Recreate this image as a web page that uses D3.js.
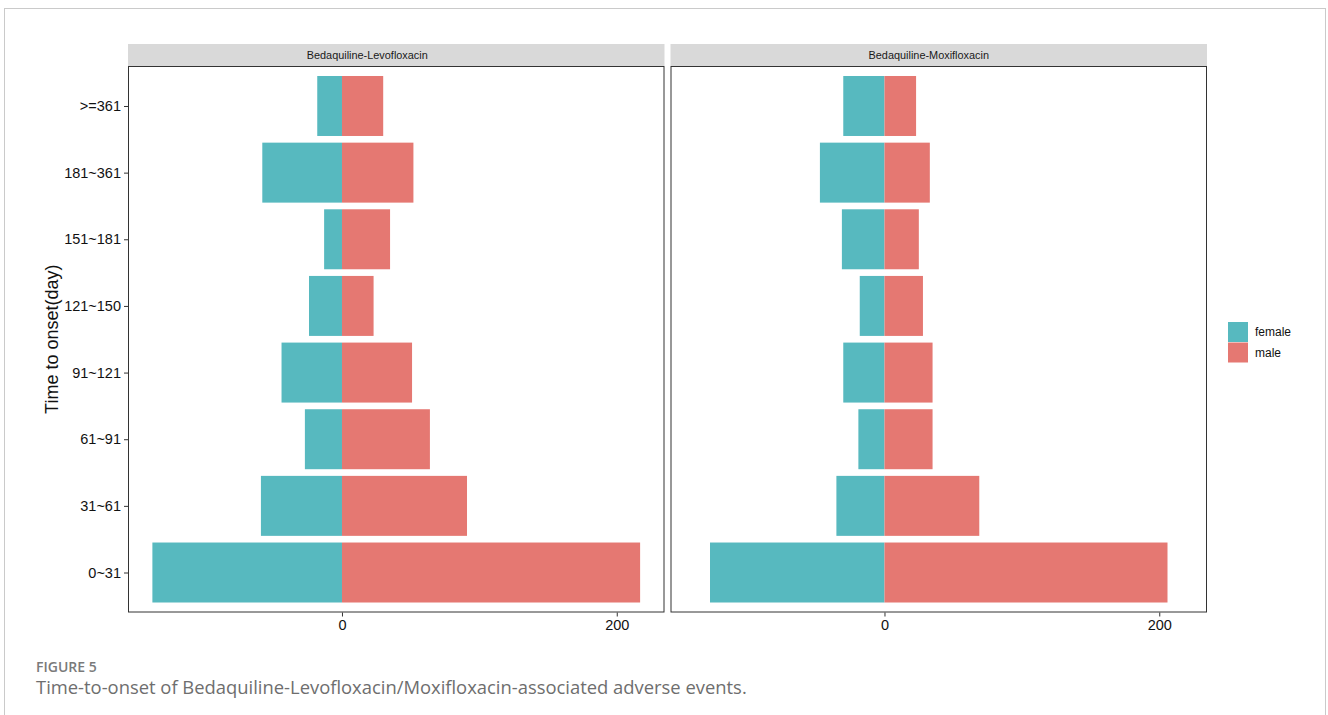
<!DOCTYPE html>
<html>
<head>
<meta charset="utf-8">
<script src="https://cdn.jsdelivr.net/npm/d3@7"></script>
<style>
  html, body { margin: 0; padding: 0; background: #fff; }
  svg { display: block; }
</style>
</head>
<body>
<script>
// ---- data ----
const categories = ["0~31", "31~61", "61~91", "91~121", "121~150", "151~181", "181~361", ">=361"];
const panels = ["Bedaquiline-Levofloxacin", "Bedaquiline-Moxifloxacin"];
const sexes = ["female", "male"];
const levoFemale = [138, 59, 27, 44, 24, 13, 58, 18];
const levoMale   = [217, 91, 64, 51, 23, 35, 52, 30];
const moxiFemale = [127, 35, 19, 30, 18, 31, 47, 30];
const moxiMale   = [206, 69, 35, 35, 28, 25, 33, 23];
const xTicks = [0, 200];
const yTitle = "Time to onset(day)";
const figLabel = "FIGURE 5";
const caption = "Time-to-onset of Bedaquiline-Levofloxacin/Moxifloxacin-associated adverse events.";

const seriesByPanel = [
  { female: levoFemale, male: levoMale },
  { female: moxiFemale, male: moxiMale }
];

const W = 1328, H = 715;
const svg = d3.select("body").append("svg").attr("width", W).attr("height", H);

// outer frame
svg.append("rect").attr("x", 4.5).attr("y", 8.5).attr("width", 1321).attr("height", 720)
  .attr("fill", "none").attr("stroke", "#cacaca").attr("stroke-width", 1);

const color = d3.scaleOrdinal().domain(sexes).range(["#57b9bf", "#e57872"]);

const panelTop = 66, panelBottom = 612.5, stripH = 22;
const panelX = [128, 670.5];
const panelW = 536.5;
const stripTextShift = [-29, -10];

// shared x domain with 5% expansion (ggplot style)
const allVals = [];
seriesByPanel.forEach(s => {
  s.female.forEach(v => allVals.push(-v));
  s.male.forEach(v => allVals.push(v));
});
const lo = d3.min(allVals), hi = d3.max(allVals);
const pad = (hi - lo) * 0.05;

const y = d3.scalePoint().domain(categories.slice().reverse())
  .range([panelTop, panelBottom]).padding(0.6);
const barH = y.step() * 0.9;

const font = "'Liberation Sans', Arial, sans-serif";

panels.forEach((name, pi) => {
  const x0 = panelX[pi];
  const x = d3.scaleLinear().domain([lo - pad, hi + pad]).range([x0, x0 + panelW]);
  const g = svg.append("g");

  // strip
  g.append("rect").attr("x", x0).attr("y", panelTop - stripH).attr("width", panelW).attr("height", stripH)
    .attr("fill", "#d9d9d9");
  g.append("text").attr("x", x0 + panelW / 2 + stripTextShift[pi]).attr("y", panelTop - stripH / 2)
    .attr("text-anchor", "middle").attr("dominant-baseline", "central")
    .attr("font-family", font).attr("font-size", "10.9px").attr("fill", "#1a1a1a").text(name);

  // bars
  const s = seriesByPanel[pi];
  const rows = [];
  categories.forEach((c, i) => {
    rows.push({ cat: c, sex: "female", v: -s.female[i] });
    rows.push({ cat: c, sex: "male", v: s.male[i] });
  });
  g.selectAll("rect.bar").data(rows).enter().append("rect").attr("class", "bar")
    .attr("x", d => Math.min(x(0), x(d.v)))
    .attr("width", d => Math.abs(x(d.v) - x(0)))
    .attr("y", d => y(d.cat) - barH / 2)
    .attr("height", barH)
    .attr("fill", d => color(d.sex));

  // panel border
  g.append("rect").attr("x", x0 + 0.5).attr("y", panelTop + 0.5).attr("width", panelW - 1)
    .attr("height", panelBottom - panelTop - 1)
    .attr("fill", "none").attr("stroke", "#333").attr("stroke-width", 1);

  // x axis
  const xAxis = d3.axisBottom(x).tickValues(xTicks).tickSize(4).tickPadding(3).tickFormat(d3.format("d"));
  const ax = g.append("g").attr("transform", `translate(0,${panelBottom})`).call(xAxis);
  ax.select(".domain").remove();
  ax.selectAll(".tick line").attr("stroke", "#333");
  ax.selectAll(".tick text").attr("font-family", font).attr("font-size", "14.5px").attr("fill", "#111");

  if (pi === 0) {
    const yAxis = d3.axisLeft(y).tickSize(4).tickPadding(3);
    const ay = g.append("g").attr("transform", `translate(${x0},0)`).call(yAxis);
    ay.select(".domain").remove();
    ay.selectAll(".tick line").attr("stroke", "#333");
    ay.selectAll(".tick text").attr("font-family", font).attr("font-size", "14.5px").attr("fill", "#111");
  }
});

// y title
svg.append("text").attr("transform", `translate(52,${(panelTop + panelBottom) / 2}) rotate(-90)`)
  .attr("text-anchor", "middle").attr("dominant-baseline", "central")
  .attr("font-family", font).attr("font-size", "18px").attr("fill", "#111").text(yTitle);

// legend
const lg = svg.append("g").attr("transform", "translate(1228,322)");
sexes.forEach((sx, i) => {
  lg.append("rect").attr("x", 0).attr("y", i * 20.5).attr("width", 20).attr("height", 20).attr("fill", color(sx));
  lg.append("text").attr("x", 27).attr("y", i * 20.5 + 10).attr("dominant-baseline", "central")
    .attr("font-family", font).attr("font-size", "12px").attr("fill", "#111").text(sx);
});

// caption
svg.append("text").attr("x", 36).attr("y", 672).attr("font-family", "'Open Sans', 'Noto Sans', sans-serif")
  .attr("font-size", "14px").attr("font-weight", 600).attr("fill", "#7a7a7a").text(figLabel);
svg.append("text").attr("x", 36).attr("y", 694).attr("font-family", "'Open Sans', 'Noto Sans', sans-serif")
  .attr("font-size", "18.4px").attr("fill", "#6e6e6e").text(caption);
</script>
</body>
</html>
